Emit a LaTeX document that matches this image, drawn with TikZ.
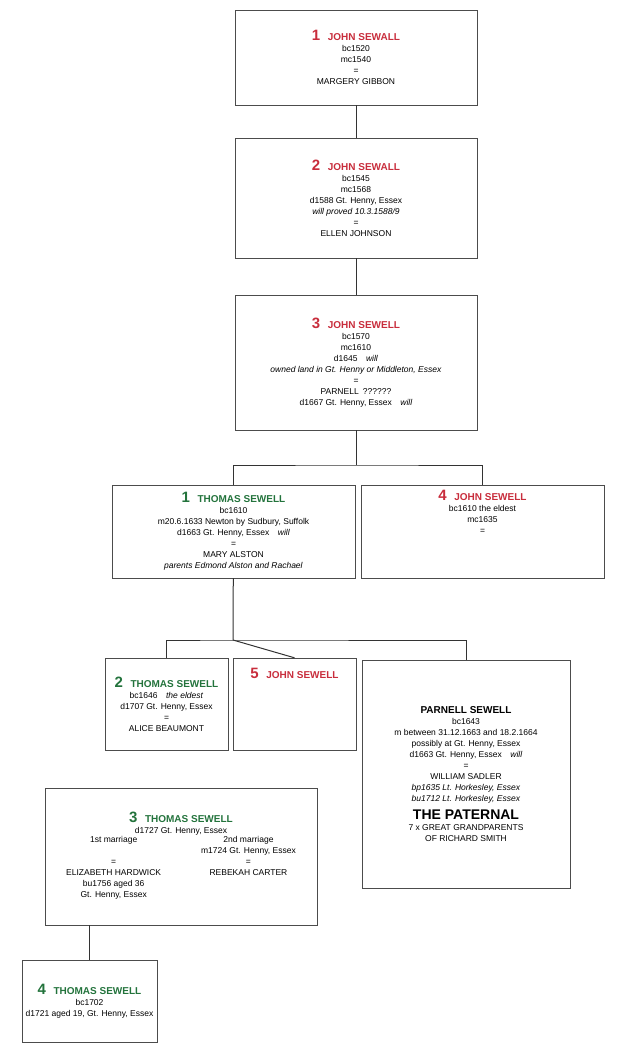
\documentclass[tikz,border=0pt]{standalone}
\usepackage{fontspec}
\setmainfont{Liberation Sans}
\usetikzlibrary{positioning}
\definecolor{sred}{RGB}{200,45,60}
\definecolor{sgreen}{RGB}{35,115,60}
\newcommand{\rn}[2]{{\color{sred}\fontsize{15}{15}\selectfont\bfseries #1\enspace\fontsize{10}{12}\selectfont #2}}
\newcommand{\gn}[2]{{\color{sgreen}\fontsize{15}{15}\selectfont\bfseries #1\enspace\fontsize{10}{12}\selectfont #2}}
\begin{document}
\begin{tikzpicture}
[x=1pt,y=-1pt,
 person/.style={shape=rectangle,draw=black!70,align=center,font=\fontsize{8.5}{11}\selectfont,inner sep=2pt},
 link/.style={draw=black!80,line width=1pt}]
\useasboundingbox (0,0) rectangle (630,1061);
\node[person,minimum width=242pt,minimum height=95pt] (john1) at (356,57.5)
 {\rn{1}{JOHN SEWALL}\\bc1520\\mc1540\\=\\MARGERY GIBBON};
\node[person,minimum width=242pt,minimum height=120pt] (john2) at (356,198)
 {\rn{2}{JOHN SEWALL}\\bc1545\\mc1568\\d1588 Gt. Henny, Essex\\\textit{will proved 10.3.1588/9}\\=\\ELLEN JOHNSON};
\node[person,minimum width=242pt,minimum height=135pt] (john3) at (356,362.5)
 {\rn{3}{JOHN SEWELL}\\bc1570\\mc1610\\d1645\quad\textit{will}\\\textit{owned land in Gt. Henny or Middleton, Essex}\\=\\PARNELL\enspace ??????\\d1667 Gt. Henny, Essex\quad\textit{will}};
\node[person,minimum width=243pt,minimum height=93pt] (thomas1) at (233.5,531.5)
 {\gn{1}{THOMAS SEWELL}\\bc1610\\m20.6.1633 Newton by Sudbury, Suffolk\\d1663 Gt. Henny, Essex\quad\textit{will}\\=\\MARY ALSTON\\\textit{parents Edmond Alston and Rachael}};
\node[person,minimum width=243pt,minimum height=93pt,text depth=40pt] (john4) at (482.5,531.5)
 {\rn{4}{JOHN SEWELL}\\bc1610 the eldest\\mc1635\\=};
\node[person,minimum width=123pt,minimum height=92pt] (thomas2) at (166.5,704)
 {\gn{2}{THOMAS SEWELL}\\bc1646\quad\textit{the eldest}\\d1707 Gt. Henny, Essex\\=\\ALICE BEAUMONT};
\node[person,minimum width=123pt,minimum height=92pt,text depth=62pt] (john5) at (294.5,704)
 {\rn{5}{JOHN SEWELL}};
\node[person,minimum width=208pt,minimum height=228pt] (parnell) at (466,774)
 {\textbf{\fontsize{10}{12}\selectfont PARNELL SEWELL}\\bc1643\\m between 31.12.1663 and 18.2.1664\\possibly at Gt. Henny, Essex\\d1663 Gt. Henny, Essex\quad\textit{will}\\=\\WILLIAM SADLER\\\textit{bp1635 Lt. Horkesley, Essex}\\\textit{bu1712 Lt. Horkesley, Essex}\\[6pt]
 \fontsize{14}{17}\selectfont\bfseries THE PATERNAL\\7 x GREAT GRANDPARENTS\\OF RICHARD SMITH};
\node[person,minimum width=272pt,minimum height=137pt] (thomas3) at (181,856.5)
 {\gn{3}{THOMAS SEWELL}\\d1727 Gt. Henny, Essex\\[-2pt]
 \begin{tabular}{@{}c@{\hspace{40pt}}c@{}}
 1st marriage & 2nd marriage\\
  & m1724 Gt. Henny, Essex\\
 = & =\\
 ELIZABETH HARDWICK & REBEKAH CARTER\\
 bu1756 aged 36 & \\
 Gt. Henny, Essex &
 \end{tabular}};
\node[person,minimum width=135pt,minimum height=82pt] (thomas4) at (89.5,1001)
 {\gn{4}{THOMAS SEWELL}\\bc1702\\d1721 aged 19, Gt. Henny, Essex};

\coordinate (fork1) at (356,465);
\coordinate (fork2) at (233,640);
\draw[link] (john1) -- (john2);
\draw[link] (john2) -- (john3);
\draw[link] (john3) -- (fork1);
\draw[link] (thomas1.north) |- (fork1) -| (john4.north);
\draw[link] (thomas1) -- (fork2);
\draw[link] (thomas2.north) |- (fork2) -| (parnell.north);
\draw[link] (fork2) -- (john5.north);
\draw[link] (thomas3.south -| thomas4.north) -- (thomas4.north);
\end{tikzpicture}
\end{document}
